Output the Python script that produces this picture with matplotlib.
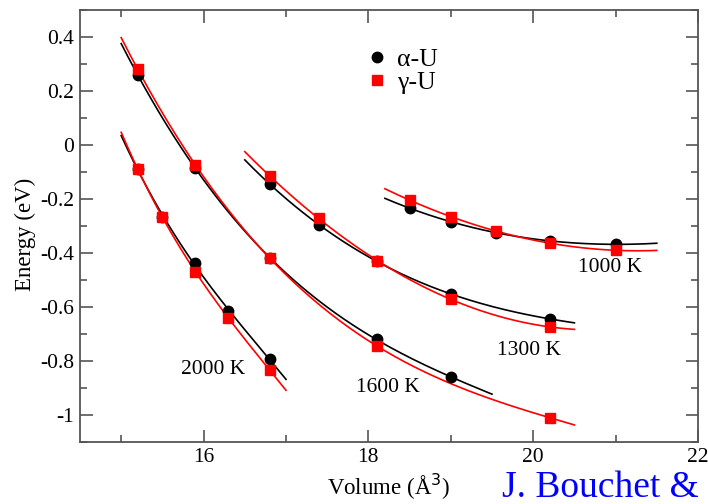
import matplotlib.pyplot as plt
import numpy as np

plt.rcParams['font.family'] = ['Liberation Serif', 'DejaVu Serif']

# Volumes (A^3) and energies (eV)
temps = ['2000 K', '1600 K', '1300 K', '1000 K']

vol_alpha = {
    '2000 K': [15.2, 15.5, 15.9, 16.3, 16.8],
    '1600 K': [15.2, 15.9, 16.8, 18.1, 19.0],
    '1300 K': [16.8, 17.4, 18.1, 19.0, 20.2],
    '1000 K': [18.5, 19.0, 19.55, 20.2, 21.0],
}
e_alpha = {
    '2000 K': [-0.089, -0.267, -0.437, -0.615, -0.793],
    '1600 K': [0.259, -0.085, -0.418, -0.720, -0.859],
    '1300 K': [-0.144, -0.296, -0.430, -0.552, -0.644],
    '1000 K': [-0.234, -0.284, -0.325, -0.355, -0.368],
}
vol_gamma = {
    '2000 K': [15.2, 15.5, 15.9, 16.3, 16.8],
    '1600 K': [15.2, 15.9, 16.8, 18.1, 20.2],
    '1300 K': [16.8, 17.4, 18.1, 19.0, 20.2],
    '1000 K': [18.5, 19.0, 19.55, 20.2, 21.0],
}
e_gamma = {
    '2000 K': [-0.089, -0.267, -0.470, -0.640, -0.833],
    '1600 K': [0.281, -0.074, -0.418, -0.744, -1.010],
    '1300 K': [-0.115, -0.270, -0.430, -0.570, -0.674],
    '1000 K': [-0.204, -0.266, -0.318, -0.364, -0.390],
}

# range of the fitted curves
fit_alpha = {'2000 K': (15.0, 17.0), '1600 K': (15.0, 19.5),
             '1300 K': (16.5, 20.5), '1000 K': (18.2, 21.5)}
fit_gamma = {'2000 K': (15.0, 17.0), '1600 K': (15.0, 20.5),
             '1300 K': (16.5, 20.5), '1000 K': (18.2, 21.5)}

# where the temperature labels go
label_pos = {'2000 K': (16.12, -0.83), '1600 K': (18.24, -0.90),
             '1300 K': (19.95, -0.76), '1000 K': (20.93, -0.455)}

fig = plt.figure(figsize=(7.08, 5.04), dpi=100)
ax = fig.add_axes([80 / 708, 1 - 442 / 504, 618 / 708, 432 / 504])

for t in temps:
    for vols, es, rng, col in [(vol_alpha, e_alpha, fit_alpha, 'black'),
                               (vol_gamma, e_gamma, fit_gamma, 'red')]:
        c = np.polyfit(vols[t], es[t], 3)
        vv = np.linspace(rng[t][0], rng[t][1], 200)
        ax.plot(vv, np.polyval(c, vv), color=col, lw=1.2, zorder=2)

for i, t in enumerate(temps):
    ax.plot(vol_alpha[t], e_alpha[t], 'o', color='black', ms=7.5, zorder=3,
            label='α-U' if i == 0 else None)
    ax.plot(vol_gamma[t], e_gamma[t], 's', color='red', ms=6.5, zorder=4,
            label='γ-U' if i == 0 else None)
    ax.text(label_pos[t][0], label_pos[t][1], t, fontsize=15.5,
            ha='center', va='center')

ax.set_xlim(14.5, 22)
ax.set_ylim(-1.1, 0.5)
ax.set_xticks([16, 18, 20, 22])
ax.set_xticks([15, 17, 19, 21], minor=True)
ax.set_yticks([-1, -0.8, -0.6, -0.4, -0.2, 0, 0.2, 0.4])
ax.set_yticklabels(['-1', '-0.8', '-0.6', '-0.4', '-0.2', '0', '0.2', '0.4'])
ax.set_yticks(np.arange(-1.1, 0.51, 0.1), minor=True)
ax.tick_params(which='both', direction='in', top=True, right=True,
               labelsize=15.5, color='#555555', width=1.2, pad=4)
ax.tick_params(which='major', length=9)
ax.tick_params(which='minor', length=5)
for s in ax.spines.values():
    s.set_color('#555555')
    s.set_linewidth(1.3)

ax.set_xlabel('Volume (Å$^3$)', fontsize=16.5)
ax.set_ylabel('Energy (eV)', fontsize=16.5)
ax.xaxis.set_label_coords(0.5, -0.07)
ax.yaxis.set_label_coords(-0.072, 0.48)

ax.legend(loc='upper left', bbox_to_anchor=(0.422, 0.965), frameon=False,
          fontsize=18.5, handletextpad=0.3, labelspacing=0.0,
          handlelength=1.0)

fig.text(502 / 708, 7 / 504, 'J. Bouchet &', color='blue', fontsize=27,
         ha='left', va='baseline')

fig.savefig('out.png', dpi=100)
